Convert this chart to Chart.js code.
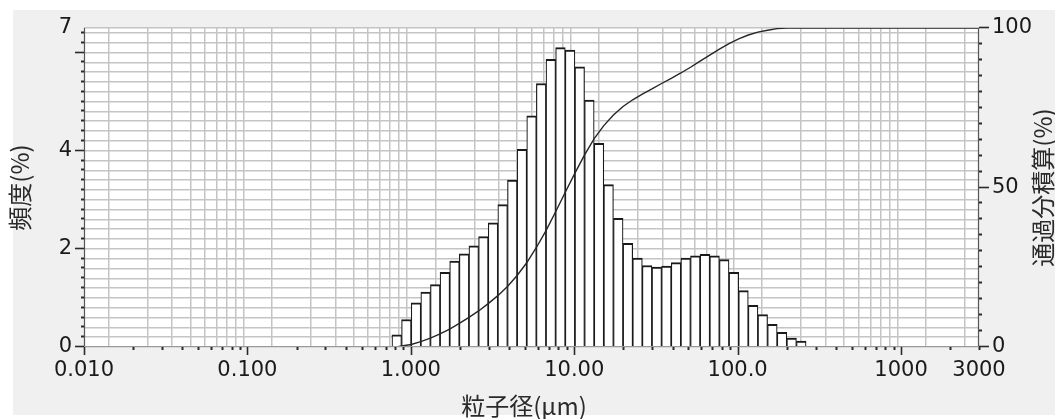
<!DOCTYPE html>
<html>
<head>
<meta charset="utf-8">
<script src="https://cdn.jsdelivr.net/npm/chart.js@4.4.1/dist/chart.umd.min.js"></script>
<style>
  html, body { margin: 0; padding: 0; background: #fff; }
  #wrap { width: 1055px; height: 419px; }
</style>
</head>
<body>
<div id="wrap"><canvas id="psdChart" width="1055" height="419"></canvas></div>
<script>
// histogram bins (bin centre, um) and frequency (%)
const binSizes = [0.820, 0.939, 1.076, 1.232, 1.411, 1.616, 1.851, 2.120, 2.428, 2.781,
  3.185, 3.648, 4.178, 4.786, 5.481, 6.278, 7.190, 8.235, 9.435, 10.81,
  12.38, 14.18, 16.24, 18.60, 21.30, 24.40, 27.94, 32.01, 36.66, 41.99,
  48.09, 55.09, 63.09, 72.27, 82.77, 94.80, 108.6, 124.4, 142.5, 163.2,
  186.9, 214.0, 245.2];
const frequency = [0.25, 0.56, 0.90, 1.12, 1.27, 1.52, 1.75, 1.90, 2.06, 2.25,
  2.53, 2.90, 3.40, 4.03, 4.71, 5.37, 5.86, 6.10, 6.05, 5.71,
  5.03, 4.15, 3.31, 2.62, 2.11, 1.81, 1.66, 1.63, 1.65, 1.72,
  1.81, 1.86, 1.89, 1.86, 1.78, 1.52, 1.15, 0.85, 0.66, 0.46,
  0.30, 0.18, 0.12];

// cumulative passing curve (um, %)
const cumSizes = [0.82, 0.877, 1.005, 1.151, 1.318, 1.510, 1.729, 1.981, 2.269, 2.599,
  2.976, 3.409, 3.905, 4.472, 5.122, 5.867, 6.720, 7.697, 8.816, 10.10,
  11.57, 13.25, 15.17, 17.38, 19.90, 22.80, 26.11, 29.91, 34.26, 39.23,
  44.94, 51.47, 58.95, 67.52, 77.34, 88.58, 101.5, 116.2, 133.1, 152.5,
  174.6, 200.0, 3000];
const cumPassing = [0, 0.3, 0.8, 1.7, 2.8, 4.1, 5.6, 7.4, 9.3, 11.3,
  13.6, 16.1, 19.0, 22.4, 26.4, 31.2, 36.5, 42.4, 48.5, 54.5,
  60.2, 65.3, 69.4, 72.7, 75.4, 77.5, 79.3, 80.9, 82.6, 84.2,
  85.9, 87.7, 89.6, 91.5, 93.4, 95.1, 96.6, 97.8, 98.7, 99.3,
  99.8, 100, 100];

// tick labels
const xTickValues = [0.01, 0.1, 1, 10, 100, 1000, 3000];
const xTickLabels = ['0.010', '0.100', '1.000', '10.00', '100.0', '1000', '3000'];
const freqTickValues = [0, 2, 4, 6.5];
const freqTickLabels = ['0', '2', '4', '7'];
const cumTickValues = [0, 50, 100];
const cumTickLabels = ['0', '50', '100'];

const xTitle = '粒子径(µm)';
const freqTitle = '頻度(%)';
const cumTitle = '通過分積算(%)';

const tickFont = { family: 'DejaVu Sans', size: 21 };
const titleFont = '24px "Noto Sans CJK JP"';
const gridColor = '#c4c4c4';

function near(a, b) { return Math.abs(a - b) <= Math.abs(b) * 1e-6 + 1e-9; }
function labelFor(values, labels, v) {
  const i = values.findIndex(t => near(t, v));
  return i >= 0 ? labels[i] : '';
}

// log grid: 1..9 in every decade, plus 2000 and 3000
const xGrid = [];
for (let e = -2; e <= 2; e++) {
  for (let m = 1; m <= 9; m++) xGrid.push(Number((m * Math.pow(10, e)).toPrecision(3)));
}
xGrid.push(1000, 2000, 3000);

const freqGrid = [];
for (let i = 0; i <= 32; i++) freqGrid.push(Number((i * 0.2).toFixed(1)));
freqGrid.push(6.5);

const cumGrid = [];
for (let i = 0; i <= 100; i += 5) cumGrid.push(i);

const panelPlugin = {
  id: 'panel',
  beforeDraw(chart) {
    const ctx = chart.ctx, a = chart.chartArea;
    ctx.save();
    ctx.fillStyle = '#fff';
    ctx.fillRect(0, 0, chart.width, chart.height);
    ctx.fillStyle = '#f0f0f0';
    ctx.fillRect(13, 10, chart.width - 13, chart.height - 14);
    ctx.fillStyle = '#fff';
    ctx.fillRect(a.left, a.top, a.right - a.left, a.bottom - a.top);
    ctx.restore();
  }
};

const axisPlugin = {
  id: 'axisMarks',
  afterDraw(chart) {
    const ctx = chart.ctx, a = chart.chartArea;
    const sx = chart.scales.x, sy = chart.scales.y, sy2 = chart.scales.y2;
    ctx.save();
    ctx.strokeStyle = '#555';
    ctx.lineWidth = 1.2;
    ctx.beginPath();
    ctx.moveTo(a.left + 0.5, a.top); ctx.lineTo(a.left + 0.5, a.bottom);
    ctx.moveTo(a.right - 0.5, a.top); ctx.lineTo(a.right - 0.5, a.bottom);
    ctx.stroke();
    ctx.strokeStyle = '#999';
    ctx.beginPath();
    ctx.moveTo(a.left, a.bottom - 0.5); ctx.lineTo(a.right, a.bottom - 0.5);
    ctx.stroke();

    ctx.strokeStyle = '#2a2a2a';
    // left ticks
    freqGrid.forEach(v => {
      if (v > 6.4) return;
      const y = Math.round(sy.getPixelForValue(v)) - 0.5;
      const major = near(v % 2, 0) || near(v % 2, 2);
      ctx.lineWidth = major ? 1.6 : 2;
      ctx.beginPath();
      ctx.moveTo(a.left - (major ? 9 : 3), y); ctx.lineTo(a.left, y);
      ctx.stroke();
    });
    // right ticks
    cumGrid.forEach(v => {
      const y = Math.round(sy2.getPixelForValue(v)) - 0.5;
      const major = v % 50 === 0;
      ctx.lineWidth = major ? 1.6 : 2;
      ctx.beginPath();
      ctx.moveTo(a.right, y); ctx.lineTo(a.right + (major ? 10 : 3), y);
      ctx.stroke();
    });
    // bottom ticks
    xGrid.forEach(v => {
      const x = Math.round(sx.getPixelForValue(v)) + 0.5;
      const major = xTickValues.some(t => near(t, v)) && v !== 3000;
      ctx.lineWidth = major ? 1.6 : 2;
      ctx.beginPath();
      ctx.moveTo(x, a.bottom); ctx.lineTo(x, a.bottom + (major ? 8 : 3));
      ctx.stroke();
    });

    // axis titles
    ctx.fillStyle = '#2a2a2a';
    ctx.font = titleFont;
    ctx.textAlign = 'center';
    ctx.textBaseline = 'middle';
    ctx.fillText(xTitle, 524, 406);
    const midY = (a.top + a.bottom) / 2;
    [[20, freqTitle], [1043, cumTitle]].forEach(([x, t]) => {
      ctx.save();
      ctx.translate(x, midY);
      ctx.rotate(-Math.PI / 2);
      ctx.fillText(t, 0, 0);
      ctx.restore();
    });
    ctx.restore();
  }
};

new Chart(document.getElementById('psdChart'), {
  type: 'bar',
  data: {
    datasets: [
      {
        type: 'line',
        label: '通過分積算',
        data: cumSizes.map((x, i) => ({ x: x, y: cumPassing[i] })),
        xAxisID: 'x',
        yAxisID: 'y2',
        borderColor: '#262626',
        borderWidth: 1.4,
        pointRadius: 0,
        tension: 0,
        fill: false,
        order: 1
      },
      {
        type: 'bar',
        label: '頻度',
        data: binSizes.map((x, i) => ({ x: x, y: frequency[i] })),
        xAxisID: 'x',
        yAxisID: 'y',
        backgroundColor: '#fff',
        borderColor: '#1a1a1a',
        borderWidth: { top: 2, left: 1.2, right: 1.2, bottom: 0 },
        borderSkipped: 'start',
        barThickness: 'flex',
        categoryPercentage: 1,
        barPercentage: 1,
        order: 2
      }
    ]
  },
  options: {
    responsive: false,
    devicePixelRatio: 1,
    animation: false,
    layout: { padding: { top: 28, left: 0, right: 0, bottom: 0 } },
    plugins: { legend: { display: false }, tooltip: { enabled: false } },
    scales: {
      x: {
        type: 'logarithmic',
        position: 'bottom',
        min: 0.01,
        max: 3000,
        afterBuildTicks: s => { s.ticks = xGrid.map(v => ({ value: v })); },
        afterFit: s => { s.height = 72; },
        grid: { color: gridColor, lineWidth: 1.5, drawTicks: false },
        border: { display: false },
        ticks: {
          autoSkip: false, maxRotation: 0, minRotation: 0,
          padding: 11, color: '#1a1a1a', font: tickFont,
          callback: v => labelFor(xTickValues, xTickLabels, v)
        }
      },
      y: {
        type: 'linear',
        position: 'left',
        min: 0,
        max: 6.5,
        afterBuildTicks: s => { s.ticks = freqGrid.map(v => ({ value: v })); },
        afterFit: s => { s.width = 84; },
        grid: { color: gridColor, lineWidth: 1.5, drawTicks: false },
        border: { display: false },
        ticks: {
          autoSkip: false, padding: 12, color: '#1a1a1a', font: tickFont,
          callback: v => labelFor(freqTickValues, freqTickLabels, v)
        }
      },
      y2: {
        type: 'linear',
        position: 'right',
        min: 0,
        max: 100,
        afterBuildTicks: s => { s.ticks = cumGrid.map(v => ({ value: v })); },
        afterFit: s => { s.width = 76; },
        grid: { drawOnChartArea: false, drawTicks: false },
        border: { display: false },
        ticks: {
          autoSkip: false, padding: 13, color: '#1a1a1a', font: tickFont,
          callback: v => labelFor(cumTickValues, cumTickLabels, v)
        }
      }
    }
  },
  plugins: [panelPlugin, axisPlugin]
});
</script>
</body>
</html>
